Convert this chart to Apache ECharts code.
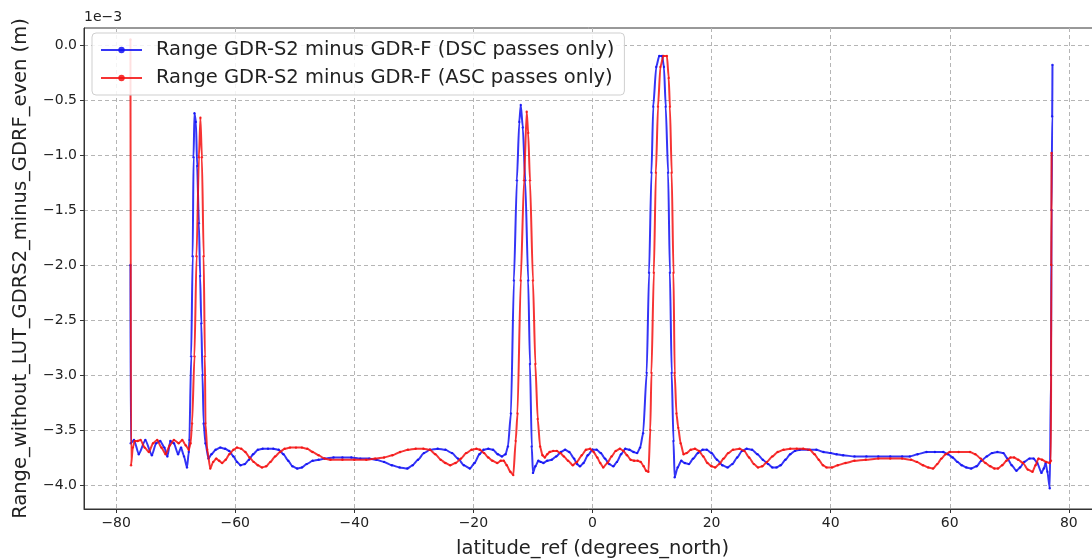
<!DOCTYPE html>
<html>
<head>
<meta charset="utf-8">
<script src="https://cdn.jsdelivr.net/npm/echarts@6/dist/echarts.min.js"></script>
<style>
  html, body { margin: 0; padding: 0; background: #fff; }
  #chart { width: 1092px; height: 560px; }
</style>
</head>
<body>
<div id="chart"></div>
<script>
// values in units of 1e-3 m
const latDsc = [
  -77.6, -77.55, -77.0, -76.2, -75.1, -74.0, -73.3, -72.6, -71.9, -71.4, -70.9, -70.3, -69.6, -69.1, -68.6, -68.1,
  -67.8, -67.7, -67.4, -67.15, -67.0, -66.85, -66.6, -66.4, -66.1, -65.9, -65.7, -65.5, -65.3, -65.0, -64.5, -64.0,
  -63.3, -62.5, -61.7, -61.0, -60.3, -59.7, -59.1, -58.4, -57.7, -57.0, -56.2, -55.4, -54.5, -53.6, -52.7, -51.9,
  -51.1, -50.4, -49.6, -48.8, -48.0, -47.0, -46.0, -45.0, -43.5, -42.0, -40.5, -39.0, -37.5, -36.3, -35.0, -33.7,
  -32.4, -31.1, -30.2, -29.3, -28.3, -27.3, -26.0, -24.7, -23.6, -22.6, -21.6, -20.6, -19.8, -19.0, -18.3, -17.5,
  -16.7, -15.9, -15.2, -14.6, -14.2, -13.7, -13.2, -12.7, -12.3, -12.05, -11.7, -11.3, -10.8, -10.5, -10.2, -10.0,
  -9.6, -9.1, -8.7, -8.25, -7.6, -6.85, -6.1, -5.3, -4.6, -3.9, -3.1, -2.6, -2.1, -1.5, -0.8, 0.0,
  0.7, 1.4, 2.1, 2.8, 3.5, 4.1, 4.8, 5.5, 6.2, 6.9, 7.5, 8.0, 8.5, 9.1, 9.5, 9.9,
  10.2, 10.7, 11.2, 11.7, 12.0, 12.3, 12.7, 13.0, 13.3, 13.6, 13.8, 14.3, 14.9, 15.5, 16.2, 16.9,
  17.7, 18.5, 19.2, 20.0, 20.9, 21.8, 22.7, 23.5, 24.3, 25.1, 25.9, 26.8, 27.7, 28.6, 29.5, 30.2,
  30.9, 31.6, 32.4, 33.2, 34.0, 34.8, 36.2, 37.6, 38.8, 40.0, 41.0, 42.1, 44.0, 46.0, 48.0, 50.0,
  52.0, 53.3, 54.6, 56.1, 57.5, 58.9, 59.7, 60.5, 61.3, 62.0, 62.8, 63.6, 64.5, 65.3, 66.2, 67.1,
  68.0, 69.0, 69.7, 70.4, 71.2, 71.8, 72.5, 73.4, 74.1, 74.7, 75.4, 75.8, 76.1, 76.4, 76.8, 77.0,
  77.1, 77.2, 77.25
];
const valDsc = [
  -2.0, -3.62, -3.59, -3.72, -3.59, -3.73, -3.62, -3.6, -3.66, -3.74, -3.6, -3.62, -3.72, -3.66, -3.74, -3.84,
  -3.7, -3.59, -2.83, -1.92, -1.02, -0.62, -0.7, -1.1, -1.62, -2.1, -2.53, -3.0, -3.44, -3.62, -3.76, -3.72,
  -3.68, -3.66, -3.67, -3.69, -3.74, -3.79, -3.82, -3.81, -3.77, -3.72, -3.68, -3.67, -3.67, -3.67, -3.68, -3.72,
  -3.78, -3.83, -3.85, -3.84, -3.81, -3.78, -3.77, -3.76, -3.75, -3.75, -3.75, -3.76, -3.76, -3.77, -3.79, -3.82,
  -3.84, -3.85, -3.82, -3.77, -3.71, -3.68, -3.67, -3.68, -3.71, -3.76, -3.82, -3.85, -3.8, -3.72, -3.68, -3.67,
  -3.68, -3.72, -3.74, -3.72, -3.65, -3.35, -2.14, -1.23, -0.7, -0.545, -0.75, -1.23, -2.14, -2.9, -3.65, -3.89,
  -3.83, -3.78, -3.79, -3.8, -3.78, -3.77, -3.74, -3.7, -3.68, -3.7, -3.76, -3.81, -3.83, -3.8, -3.73, -3.68,
  -3.68, -3.71, -3.76, -3.81, -3.83, -3.79, -3.72, -3.67, -3.68, -3.7, -3.71, -3.66, -3.53, -2.98, -2.07, -1.16,
  -0.56, -0.2, -0.1, -0.1, -0.2, -0.56, -1.16, -2.07, -2.98, -3.6, -3.93, -3.84, -3.78, -3.8, -3.81, -3.76,
  -3.71, -3.68, -3.68, -3.71, -3.77, -3.82, -3.84, -3.81, -3.75, -3.69, -3.67, -3.68, -3.72, -3.77, -3.81, -3.84,
  -3.84, -3.82, -3.77, -3.72, -3.69, -3.68, -3.68, -3.68, -3.7, -3.71, -3.72, -3.73, -3.74, -3.74, -3.74, -3.74,
  -3.74, -3.74, -3.72, -3.7, -3.7, -3.7, -3.72, -3.75, -3.79, -3.82, -3.84, -3.85, -3.83, -3.78, -3.74, -3.71,
  -3.7, -3.71, -3.76, -3.82, -3.87, -3.84, -3.79, -3.76, -3.76, -3.8, -3.89, -3.85, -3.8, -3.88, -4.03, -3.0,
  -1.5, -0.65, -0.18
];
const latAsc = [
  -77.6, -77.5, -77.2, -76.9, -76.4, -75.9, -75.2, -74.5, -73.8, -73.1, -72.4, -71.7, -71.0, -70.3, -69.5, -68.9,
  -68.3, -67.8, -67.5, -67.25, -66.85, -66.5, -66.1, -65.85, -65.6, -65.3, -65.1, -65.0, -64.7, -64.2, -63.7, -63.2,
  -62.7, -62.2, -61.6, -61.0, -60.3, -59.7, -59.0, -58.3, -57.6, -56.9, -56.2, -55.5, -54.8, -54.1, -53.3, -52.5,
  -51.7, -50.8, -49.8, -48.8, -47.9, -47.0, -46.0, -45.0, -44.0, -42.0, -40.0, -38.0, -36.5, -35.0, -33.6, -32.3,
  -31.0, -29.7, -28.4, -27.3, -26.4, -25.5, -24.7, -23.9, -23.0, -22.1, -21.2, -20.3, -19.5, -18.9, -18.2, -17.5,
  -16.8, -16.0, -15.4, -14.9, -14.4, -13.8, -13.3, -12.9, -12.6, -12.05, -11.5, -11.05, -10.8, -10.5, -10.0, -9.6,
  -9.2, -8.8, -8.4, -8.0, -7.6, -7.2, -6.6, -6.0, -5.4, -4.8, -4.1, -3.3, -2.6, -1.8, -1.1, -0.4,
  0.2, 0.8, 1.3, 1.8, 2.5, 3.2, 3.9, 4.6, 5.2, 5.8, 6.4, 7.0, 7.6, 8.1, 8.6, 9.0,
  9.4, 9.7, 9.9, 10.3, 10.65, 11.0, 11.4, 11.9, 12.5, 12.8, 13.0, 13.3, 13.6, 13.8, 14.1, 14.4,
  14.8, 15.3, 15.8, 16.5, 17.2, 17.9, 18.6, 19.3, 20.0, 20.6, 21.3, 22.0, 22.8, 23.6, 24.7, 25.5,
  26.3, 27.1, 27.8, 28.5, 29.3, 30.2, 31.1, 32.1, 33.2, 34.3, 35.4, 36.5, 37.3, 38.0, 38.7, 39.3,
  40.2, 41.2, 42.5, 44.0, 45.9, 48.0, 50.0, 52.0, 53.5, 54.5, 55.5, 56.4, 57.2, 57.9, 58.6, 59.3,
  60.0, 61.5, 63.4, 64.3, 65.2, 66.0, 66.8, 67.5, 68.1, 68.8, 69.5, 70.2, 70.8, 71.5, 72.3, 73.1,
  73.9, 74.4, 74.9, 75.5, 76.2, 76.8, 77.0, 77.05, 77.1
];
const valAsc = [
  0.05, -3.82, -3.66, -3.6, -3.6, -3.59, -3.66, -3.7, -3.62, -3.59, -3.66, -3.72, -3.64, -3.59, -3.62, -3.59,
  -3.64, -3.68, -3.62, -3.44, -2.83, -1.92, -1.02, -0.66, -1.02, -1.92, -2.83, -3.44, -3.68, -3.85, -3.79, -3.76,
  -3.78, -3.8, -3.77, -3.72, -3.68, -3.66, -3.67, -3.7, -3.75, -3.79, -3.82, -3.84, -3.83, -3.79, -3.74, -3.7,
  -3.67, -3.66, -3.66, -3.66, -3.67, -3.7, -3.73, -3.76, -3.77, -3.77, -3.77, -3.77, -3.76, -3.75, -3.73, -3.7,
  -3.68, -3.67, -3.67, -3.68, -3.72, -3.77, -3.8, -3.82, -3.8, -3.76, -3.71, -3.68, -3.67, -3.68, -3.71, -3.75,
  -3.78, -3.8, -3.78, -3.78, -3.82, -3.88, -3.91, -3.6, -3.35, -2.14, -1.23, -0.606, -0.8, -1.23, -2.14, -2.9,
  -3.4, -3.65, -3.73, -3.75, -3.72, -3.7, -3.69, -3.69, -3.71, -3.74, -3.78, -3.82, -3.79, -3.73, -3.68, -3.67,
  -3.7, -3.75, -3.8, -3.84, -3.8, -3.74, -3.69, -3.67, -3.69, -3.73, -3.77, -3.78, -3.78, -3.79, -3.83, -3.87,
  -3.88, -3.5, -2.98, -2.07, -1.16, -0.56, -0.2, -0.1, -0.1, -0.3, -0.56, -1.16, -2.07, -2.98, -3.35, -3.48,
  -3.62, -3.72, -3.71, -3.68, -3.67, -3.69, -3.74, -3.8, -3.83, -3.84, -3.81, -3.76, -3.71, -3.68, -3.67, -3.69,
  -3.75, -3.81, -3.84, -3.83, -3.79, -3.74, -3.7, -3.68, -3.67, -3.67, -3.67, -3.68, -3.72, -3.77, -3.82, -3.84,
  -3.84, -3.82, -3.8, -3.78, -3.77, -3.76, -3.76, -3.76, -3.77, -3.79, -3.82, -3.84, -3.85, -3.81, -3.76, -3.72,
  -3.7, -3.7, -3.7, -3.72, -3.76, -3.8, -3.83, -3.85, -3.85, -3.82, -3.78, -3.75, -3.75, -3.77, -3.8, -3.86,
  -3.88, -3.82, -3.76, -3.77, -3.79, -3.8, -3.78, -2.0, -0.98
];
const xTicks = [-80, -60, -40, -20, 0, 20, 40, 60, 80];
const yTicks = [0, -0.5, -1.0, -1.5, -2.0, -2.5, -3.0, -3.5, -4.0];
const names = ['Range GDR-S2 minus GDR-F (DSC passes only)', 'Range GDR-S2 minus GDR-F (ASC passes only)'];

const pairs = (xs, ys) => xs.map((x, i) => [x, ys[i]]);
const minus = (s) => String(s).replace('-', '\u2212');
const FONT = 'DejaVu Sans';

const chart = echarts.init(document.getElementById('chart'), null, { renderer: 'canvas' });

const axisCommon = {
  axisLine: { show: true, onZero: false, lineStyle: { color: '#333', width: 1 } },
  axisTick: { show: true, length: 4, lineStyle: { color: '#333' } },
  splitLine: { show: true, lineStyle: { color: '#b5b5b5', type: [4, 3], width: 1 } },
  nameLocation: 'middle',
  nameTextStyle: { fontFamily: FONT, fontSize: 19.5, color: '#222' },
};

const lineSeries = (name, xs, ys, color, z) => ({
  name: name,
  type: 'line',
  data: pairs(xs, ys),
  color: color,
  smooth: 0.2,
  smoothMonotone: 'x',
  showSymbol: true,
  showAllSymbol: true,
  symbol: 'circle',
  symbolSize: 2.4,
  lineStyle: { width: 2, opacity: 0.85 },
  itemStyle: { opacity: 0.85 },
  z: z,
});

chart.setOption({
  animation: false,
  backgroundColor: '#fff',
  grid: {
    left: 84, top: 28, right: -9, bottom: 51,
    outerBoundsMode: 'none', containLabel: false,
    show: true, borderColor: '#333', borderWidth: 1,
  },
  legend: {
    orient: 'vertical',
    left: 92,
    top: 33,
    padding: [7, 10, 7, 8],
    itemGap: 8,
    itemWidth: 41,
    itemHeight: 8,
    borderColor: '#cfcfcf',
    borderWidth: 1,
    borderRadius: 4,
    backgroundColor: 'rgba(255,255,255,0.85)',
    textStyle: { fontFamily: FONT, fontSize: 19.5, color: '#222', padding: [0, 0, 0, 9] },
    data: names,
  },
  xAxis: Object.assign({}, axisCommon, {
    type: 'value',
    min: -85.4,
    max: 85.4,
    name: 'latitude_ref (degrees_north)',
    nameGap: 30,
    axisTick: Object.assign({}, axisCommon.axisTick, { customValues: xTicks }),
    axisLabel: { customValues: xTicks, fontFamily: FONT, fontSize: 14, color: '#222', margin: 7, formatter: (v) => minus(v) },
  }),
  yAxis: Object.assign({}, axisCommon, {
    type: 'value',
    min: -4.218,
    max: 0.155,
    name: 'Range_without_LUT_GDRS2_minus_GDRF_even (m)',
    nameGap: 53,
    axisTick: Object.assign({}, axisCommon.axisTick, { customValues: yTicks }),
    axisLabel: { customValues: yTicks, fontFamily: FONT, fontSize: 14, color: '#222', margin: 7, formatter: (v) => minus(v.toFixed(1)) },
  }),
  graphic: [
    { type: 'text', left: 84, top: 10, style: { text: '1e\u22123', font: '14px "DejaVu Sans"', fill: '#222' } },
  ],
  series: [
    lineSeries(names[0], latDsc, valDsc, '#1010f5', 2),
    lineSeries(names[1], latAsc, valAsc, '#f51010', 3),
  ],
});
</script>
</body>
</html>
